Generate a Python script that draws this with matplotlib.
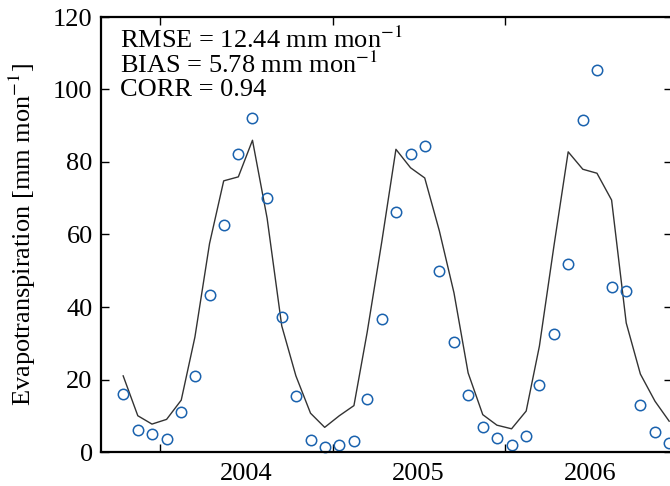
import matplotlib
matplotlib.use("Agg")
import matplotlib.pyplot as plt
import matplotlib.dates as mdates
import pandas as pd

plt.rcParams['font.family'] = ['Liberation Serif', 'DejaVu Serif']
plt.rcParams['mathtext.fontset'] = 'stix'

start_month = '2003-10'
n_months = 39
observed = [16, 6, 5, 3.5, 11, 21, 43.3, 62.6, 82.3, 92, 70, 37.3, 15.5, 3.3, 1.5,
            2, 3, 14.5, 36.7, 66.2, 82.2, 84.5, 50, 30.3, 15.6, 7, 4,
            2, 4.5, 18.5, 32.5, 52, 91.5, 105.5, 45.5, 44.5, 13, 5.5, 2.5]
modeled = [21, 10, 7.7, 9, 14.3, 31.7, 57.5, 74.8, 75.9, 86, 64.5, 34.8, 21, 10.7, 6.8,
           10, 12.8, 33, 58, 83.5, 78.4, 75.6, 61, 43.9, 21.8, 10.3, 7.4,
           6.4, 11.3, 29.2, 57, 82.8, 78, 76.9, 69.5, 35.6, 21.5, 14, 8.5]
stats_text = ['RMSE = 12.44 mm mon$^{-1}$', 'BIAS = 5.78 mm mon$^{-1}$', 'CORR = 0.94']
ylabel = 'Evapotranspiration [mm mon$^{-1}$]'
yticks = [0, 20, 40, 60, 80, 100, 120]

dates = pd.date_range(start_month + '-01', periods=n_months, freq='MS') + pd.Timedelta(days=14)

FS = 19
fig = plt.figure(figsize=(6.7, 4.86), dpi=100)
ax = fig.add_axes([101/670, 1 - 452/486, (672-101)/670, (452-17)/486])

ax.plot(dates, modeled, color='#333333', lw=1.0)
ax.plot(dates, observed, ls='none', marker='o', ms=7.5, mfc='none',
        mec='#1a62ae', mew=1.1, clip_on=False)

ax.set_xlim(pd.Timestamp('2003-08-29'), pd.Timestamp('2006-12-21'))
ax.set_ylim(0, 120)
ax.set_yticks(yticks)

ax.xaxis.set_major_locator(mdates.YearLocator(month=1, day=1))
ax.xaxis.set_major_formatter(plt.NullFormatter())
ax.xaxis.set_minor_locator(mdates.MonthLocator(bymonth=7, bymonthday=1))
ax.xaxis.set_minor_formatter(mdates.DateFormatter('%Y'))

ax.tick_params(which='major', direction='in', length=6, width=1,
               top=True, right=True, labelsize=FS, pad=6)
ax.tick_params(axis='x', which='minor', length=0, labelsize=FS, pad=8)

for s in ax.spines.values():
    s.set_linewidth(1.6)

ax.set_ylabel(ylabel, fontsize=FS)
ax.yaxis.set_label_coords((38 - 101) / 571, 0.5)

ys = [0.929, 0.871, 0.818]
for t, y in zip(stats_text, ys):
    ax.text(0.033, y, t, transform=ax.transAxes, fontsize=FS, va='baseline', ha='left')

fig.savefig('out.png', dpi=100)
